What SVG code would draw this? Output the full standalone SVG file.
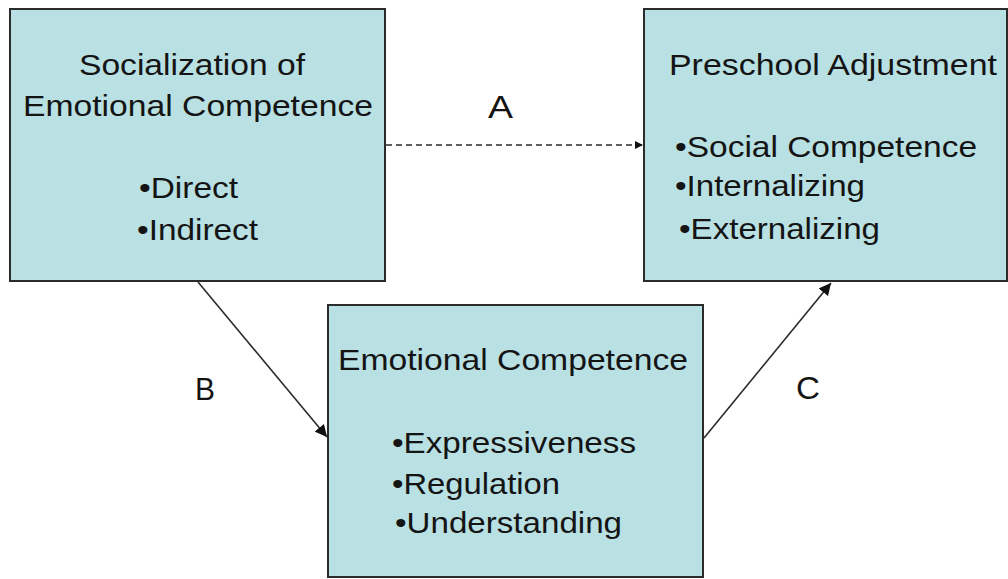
<svg xmlns="http://www.w3.org/2000/svg" width="1008" height="579" viewBox="0 0 1008 579">
<style>
.box{fill:#b9e0e3;stroke:#2b2b2b;stroke-width:2}
.t{font-family:"Liberation Sans",Arial,sans-serif;font-size:29px;fill:#141414}
.lbl{font-family:"Liberation Sans",Arial,sans-serif;font-size:32px;fill:#141414}
.conn{stroke:#2b2b2b;stroke-width:1.6;fill:none}
</style>
<defs>
<marker id="ah" viewBox="0 0 10 10" refX="10" refY="5" markerWidth="8" markerHeight="8" markerUnits="userSpaceOnUse" orient="auto">
<path d="M0,0 L10,5 L0,10 z" fill="#111"/>
</marker>
<marker id="ah2" viewBox="0 0 10 10" refX="10" refY="5" markerWidth="12" markerHeight="12" markerUnits="userSpaceOnUse" orient="auto">
<path d="M0,0 L10,5 L0,10 z" fill="#111"/>
</marker>
</defs>
<rect width="1008" height="579" fill="#ffffff"/>
<g id="connectors">
<line class="conn" x1="386" y1="145" x2="643" y2="145" stroke-dasharray="6,4" marker-end="url(#ah)"/>
<line class="conn" x1="198" y1="282" x2="327" y2="437" marker-end="url(#ah2)"/>
<line class="conn" x1="704" y1="438" x2="831" y2="283" marker-end="url(#ah2)"/>
<text class="lbl" x="488" y="118" textLength="25" lengthAdjust="spacingAndGlyphs">A</text>
<text class="lbl" x="195" y="400" textLength="20" lengthAdjust="spacingAndGlyphs">B</text>
<text class="lbl" x="796" y="399" textLength="24" lengthAdjust="spacingAndGlyphs">C</text>
</g>
<g id="node-socialization">
<rect class="box" x="10" y="9" width="375" height="272"/>
<text class="t" x="79" y="75" textLength="226" lengthAdjust="spacingAndGlyphs">Socialization of</text>
<text class="t" x="23" y="116" textLength="350" lengthAdjust="spacingAndGlyphs">Emotional Competence</text>
<text class="t" x="139" y="198" textLength="99" lengthAdjust="spacingAndGlyphs">•Direct</text>
<text class="t" x="137" y="240" textLength="121" lengthAdjust="spacingAndGlyphs">•Indirect</text>
</g>
<g id="node-preschool">
<rect class="box" x="644" y="9" width="363" height="272"/>
<text class="t" x="669" y="75" textLength="328" lengthAdjust="spacingAndGlyphs">Preschool Adjustment</text>
<text class="t" x="675" y="157" textLength="302" lengthAdjust="spacingAndGlyphs">•Social Competence</text>
<text class="t" x="675" y="196" textLength="190" lengthAdjust="spacingAndGlyphs">•Internalizing</text>
<text class="t" x="679" y="239" textLength="201" lengthAdjust="spacingAndGlyphs">•Externalizing</text>
</g>
<g id="node-emotional">
<rect class="box" x="328" y="305" width="375" height="272"/>
<text class="t" x="338" y="370" textLength="350" lengthAdjust="spacingAndGlyphs">Emotional Competence</text>
<text class="t" x="392" y="453" textLength="244" lengthAdjust="spacingAndGlyphs">•Expressiveness</text>
<text class="t" x="392" y="494" textLength="168" lengthAdjust="spacingAndGlyphs">•Regulation</text>
<text class="t" x="395" y="533" textLength="227" lengthAdjust="spacingAndGlyphs">•Understanding</text>
</g>
</svg>
